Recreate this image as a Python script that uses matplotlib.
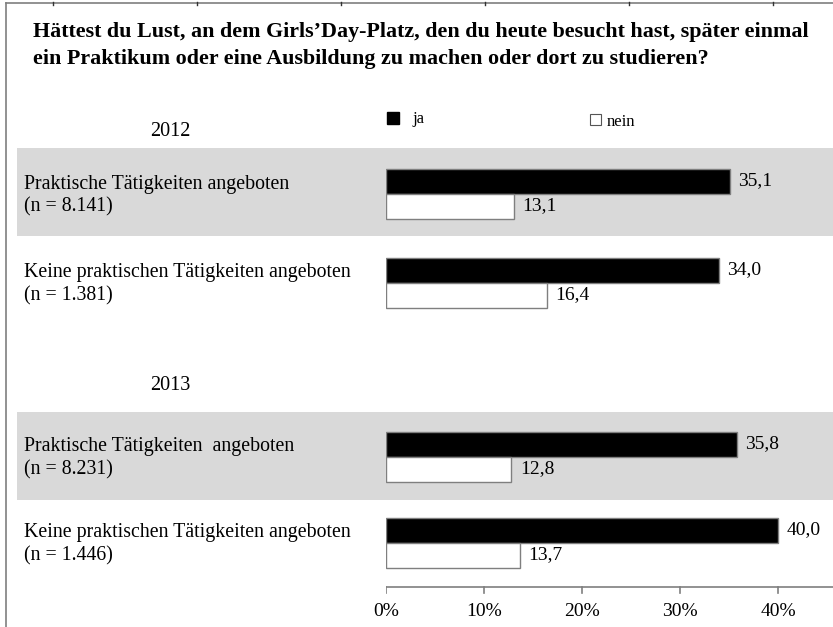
import matplotlib
matplotlib.use("Agg")
import matplotlib.pyplot as plt
from matplotlib.patches import Rectangle

W, H = 833, 627

title_lines = ["Hättest du Lust, an dem Girls\u2019Day-Platz, den du heute besucht hast, später einmal",
               "ein Praktikum oder eine Ausbildung zu machen oder dort zu studieren?"]
years = ["2012", "2013"]
groups = ["Praktische Tätigkeiten angeboten",
          "Keine praktischen Tätigkeiten angeboten",
          "Praktische Tätigkeiten  angeboten",
          "Keine praktischen Tätigkeiten angeboten"]
n_labels = ["(n = 8.141)", "(n = 1.381)", "(n = 8.231)", "(n = 1.446)"]
ja = [35.1, 34.0, 35.8, 40.0]
nein = [13.1, 16.4, 12.8, 13.7]
xticks = [0, 10, 20, 30, 40]
legend_labels = ["ja", "nein"]

plt.rcParams["font.family"] = ["Liberation Serif", "DejaVu Serif"]

fig = plt.figure(figsize=(W / 100, H / 100), dpi=100)

# background axes in pixel units for frame, bands and texts
bg = fig.add_axes([0, 0, 1, 1], zorder=0)
bg.set_xlim(0, W)
bg.set_ylim(H, 0)
bg.axis("off")

# outer frame lines with small top ticks
bg.plot([6, W], [3, 3], color="#7f7f7f", lw=1.2)
bg.plot([6, 6], [3, H], color="#7f7f7f", lw=1.2)
for tx in [53, 197, 341, 485, 629, 773]:
    bg.plot([tx, tx], [2, 5], color="#333333", lw=1)

for line, ty in zip(title_lines, [32, 59]):
    bg.text(33, ty, line, fontsize=15.8, fontweight="bold", va="center")

# gray bands behind first row of each year
band_tops = [148, 412]
for top in band_tops:
    bg.add_patch(Rectangle((17, top), W - 17, 88, facecolor="#d9d9d9",
                           edgecolor="none"))

year_y = [131, 386]
for yr, yy in zip(years, year_y):
    bg.text(170, yy, yr, fontsize=14.5, ha="center", va="center")

bar_y = [181, 270, 444, 530]
for g, n, yy in zip(groups, n_labels, bar_y):
    bg.text(24, yy + 3, g, fontsize=14.3, va="center")
    bg.text(24, yy + 26, n, fontsize=14.3, va="center")

# legend
bg.add_patch(Rectangle((387, 112), 12, 12, facecolor="black", edgecolor="black"))
bg.text(412, 119, legend_labels[0], fontsize=12, va="center")
bg.add_patch(Rectangle((590, 114), 11, 11, facecolor="white",
                       edgecolor="#555555", lw=0.8))
bg.text(607, 122, legend_labels[1], fontsize=12, va="center")

# bar axes: x in percent, y in pixels
x0 = 386
ppu = 9.8
ax = fig.add_axes([x0 / W, 0, 1 - x0 / W, 1], zorder=1)
ax.patch.set_visible(False)
ax.set_xlim(0, (W - x0) / ppu)
ax.set_ylim(H, 0)
ax.axis("off")

bh = 25
ax.barh([y for y in bar_y], ja, height=bh, color="black",
        edgecolor="#7f7f7f", lw=1)
ax.barh([y + bh for y in bar_y], nein, height=bh, color="white",
        edgecolor="#7f7f7f", lw=1)
for v, yy in zip(ja, bar_y):
    ax.annotate(f"{v:.1f}".replace(".", ","), (v, yy), xytext=(6, 0),
                textcoords="offset points", va="center", fontsize=14)
for v, yy in zip(nein, bar_y):
    ax.annotate(f"{v:.1f}".replace(".", ","), (v, yy + bh), xytext=(6, 0),
                textcoords="offset points", va="center", fontsize=14)

# x axis
axis_y = 587
ax.plot([0, (W - x0) / ppu], [axis_y, axis_y], color="#7f7f7f", lw=1.2)
for t in xticks:
    ax.plot([t, t], [axis_y, axis_y + 6], color="#7f7f7f", lw=1.2)
    ax.text(t, 611, f"{t}%", ha="center", va="center", fontsize=14)

fig.savefig("out.png", dpi=100)
